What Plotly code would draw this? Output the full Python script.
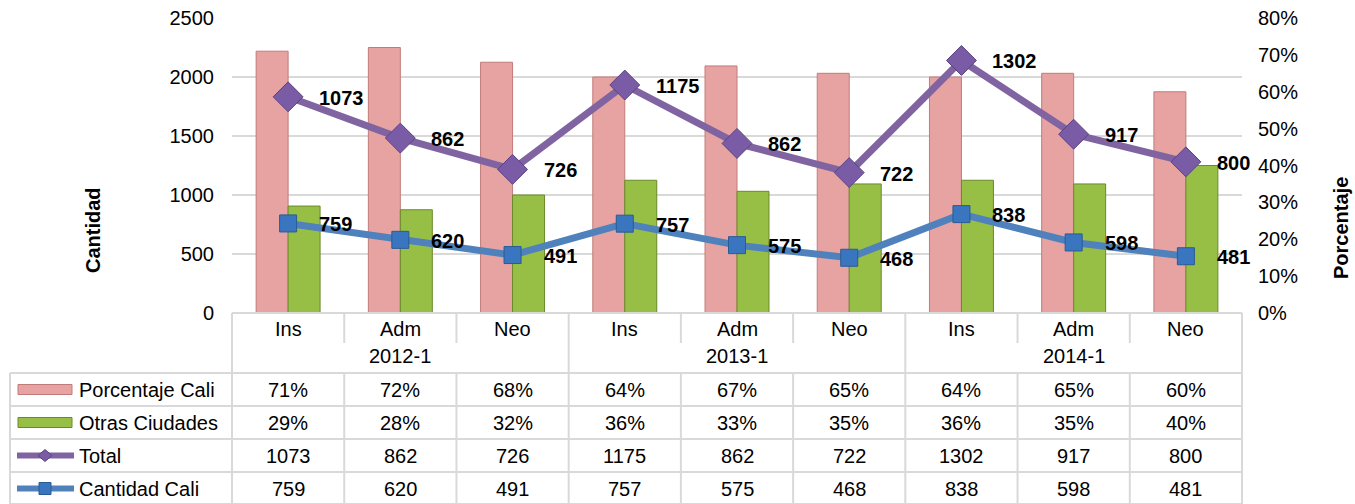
import plotly.graph_objects as go

# ---------------- data ----------------
categories = ["Ins", "Adm", "Neo", "Ins", "Adm", "Neo", "Ins", "Adm", "Neo"]
periods = ["2012-1", "2013-1", "2014-1"]
porcentaje_cali = [0.71, 0.72, 0.68, 0.64, 0.67, 0.65, 0.64, 0.65, 0.60]
otras_ciudades = [0.29, 0.28, 0.32, 0.36, 0.33, 0.35, 0.36, 0.35, 0.40]
total = [1073, 862, 726, 1175, 862, 722, 1302, 917, 800]
cantidad_cali = [759, 620, 491, 757, 575, 468, 838, 598, 481]
series_names = ["Porcentaje Cali", "Otras Ciudades", "Total", "Cantidad Cali"]

# ---------------- styling ----------------
W, H = 1355, 504
FONT = "Arial, Liberation Sans, sans-serif"
FS = 20
PINK, PINK_EDGE = "#E6A3A1", "#C07C7A"
GREEN, GREEN_EDGE = "#98BF45", "#6A8A2A"
PURPLE, PURPLE_MK = "#8064A2", "#7A5CA6"
BLUE, BLUE_MK = "#4F81BD", "#3A76C0"
GRID = "#D9D9D9"

plot_left, plot_right, plot_top, plot_bottom = 232, 1242, 18, 313
dom_x = [plot_left / W, plot_right / W]
dom_y = [1 - plot_bottom / H, 1 - plot_top / H]


def px(x):
    return x / W


def py(y):
    return 1 - y / H


n = len(categories)
xs = list(range(n))


def cx(i):
    return dom_x[0] + (i + 0.5) / n * (dom_x[1] - dom_x[0])


def bx(k):
    return dom_x[0] + k / n * (dom_x[1] - dom_x[0])


# stacked line (Total stacked on top of Cantidad Cali, as in the original)
total_stacked = [c + t for c, t in zip(cantidad_cali, total)]

fig = go.Figure()
fig.add_trace(go.Bar(x=xs, y=porcentaje_cali, name=series_names[0], yaxis="y",
                     marker=dict(color=PINK, line=dict(color=PINK_EDGE, width=1))))
fig.add_trace(go.Bar(x=xs, y=otras_ciudades, name=series_names[1], yaxis="y",
                     marker=dict(color=GREEN, line=dict(color=GREEN_EDGE, width=1))))
fig.add_trace(go.Scatter(x=xs, y=cantidad_cali, name=series_names[3], yaxis="y2",
                         mode="lines+markers",
                         line=dict(color=BLUE, width=7),
                         marker=dict(symbol="square", size=17, color=BLUE_MK,
                                     line=dict(color="#2A5A94", width=1)),
                         cliponaxis=False))
fig.add_trace(go.Scatter(x=xs, y=total_stacked, name=series_names[2], yaxis="y2",
                         mode="lines+markers",
                         line=dict(color=PURPLE, width=7),
                         marker=dict(symbol="diamond", size=23, color=PURPLE_MK,
                                     line=dict(color="#5B4182", width=1)),
                         cliponaxis=False))

shapes = []
annotations = []

# data labels (bold, to the right of each marker)
for vals, ys in [(cantidad_cali, cantidad_cali), (total, total_stacked)]:
    for i, (v, yv) in enumerate(zip(vals, ys)):
        annotations.append(dict(xref="x", yref="y2", x=xs[i], y=yv, text=str(v), showarrow=False,
                                xanchor="left", yanchor="middle", xshift=29, yshift=-1,
                                font=dict(family=FONT, size=FS, color="black", weight="bold")))


def hline(y, x0, x1):
    shapes.append(dict(type="line", xref="paper", yref="paper", x0=x0, x1=x1, y0=py(y), y1=py(y),
                       line=dict(color=GRID, width=2)))


def vline(x, y0, y1):
    shapes.append(dict(type="line", xref="paper", yref="paper", x0=x, x1=x, y0=py(y0), y1=py(y1),
                       line=dict(color=GRID, width=2)))


def text(x, y, s, size=FS, bold=False, xanchor="center"):
    annotations.append(dict(xref="paper", yref="paper", x=x, y=py(y), text=s, showarrow=False,
                            xanchor=xanchor, yanchor="middle",
                            font=dict(family=FONT, size=size, color="black",
                                      weight="bold" if bold else "normal")))


# table grid
row_lines = [373, 406, 439, 472, 504]
table_left = 10
hline(plot_bottom, dom_x[0], dom_x[1])
for y in row_lines:
    hline(y, px(table_left), dom_x[1])
for k in range(n + 1):
    if k % 3 == 0:
        vline(bx(k), plot_bottom, 504)
    else:
        vline(bx(k), plot_bottom, 343)
        vline(bx(k), 373, 504)
vline(px(table_left), 373, 504)

# category and period labels
for i, c in enumerate(categories):
    text(cx(i), 329, c)
for g, p in enumerate(periods):
    text((bx(3 * g) + bx(3 * g + 3)) / 2, 356, p)

# data rows
row_centers = [389.5, 422.5, 455.5, 488.5]
rows = [
    [f"{round(v * 100)}%" for v in porcentaje_cali],
    [f"{round(v * 100)}%" for v in otras_ciudades],
    [str(v) for v in total],
    [str(v) for v in cantidad_cali],
]
for r, (yc, vals) in enumerate(zip(row_centers, rows)):
    text(px(77), yc, series_names[r], xanchor="left")
    for i, v in enumerate(vals):
        text(cx(i), yc, v)

# legend keys inside the table
for yc, fill, edge in [(row_centers[0], PINK, PINK_EDGE), (row_centers[1], GREEN, GREEN_EDGE)]:
    shapes.append(dict(type="rect", xref="paper", yref="paper", x0=px(18), x1=px(72),
                       y0=py(yc + 5), y1=py(yc - 5), fillcolor=fill, line=dict(color=edge, width=1)))
for yc, col, mk, kind in [(row_centers[2], PURPLE, PURPLE_MK, "diamond"),
                          (row_centers[3], BLUE, BLUE_MK, "square")]:
    shapes.append(dict(type="line", xref="paper", yref="paper", x0=px(17), x1=px(74),
                       y0=py(yc), y1=py(yc), line=dict(color=col, width=6)))
    mx = 45
    if kind == "diamond":
        path = (f"M {px(mx - 7)} {py(yc)} L {px(mx)} {py(yc - 6)} L {px(mx + 7)} {py(yc)} "
                f"L {px(mx)} {py(yc + 6)} Z")
        shapes.append(dict(type="path", xref="paper", yref="paper", path=path,
                           fillcolor=mk, line=dict(color="#5B4182", width=1)))
    else:
        shapes.append(dict(type="rect", xref="paper", yref="paper", x0=px(mx - 6), x1=px(mx + 6),
                           y0=py(yc + 6), y1=py(yc - 6), fillcolor=mk,
                           line=dict(color="#2A5A94", width=1)))

# axis titles
annotations.append(dict(xref="paper", yref="paper", x=px(93), y=py(230), text="Cantidad",
                        showarrow=False, textangle=-90, xanchor="center", yanchor="middle",
                        font=dict(family=FONT, size=FS, color="black", weight="bold")))
annotations.append(dict(xref="paper", yref="paper", x=px(1341), y=py(228), text="Porcentaje",
                        showarrow=False, textangle=-90, xanchor="center", yanchor="middle",
                        font=dict(family=FONT, size=FS, color="black", weight="bold")))

fig.update_layout(
    width=W, height=H, autosize=False,
    margin=dict(l=0, r=0, t=0, b=0, pad=0),
    paper_bgcolor="white", plot_bgcolor="white",
    showlegend=False,
    barmode="group", bargap=0.43, bargroupgap=0,
    font=dict(family=FONT, size=FS, color="black"),
    xaxis=dict(domain=dom_x, range=[-0.5, n - 0.5], showticklabels=False, showgrid=False,
               zeroline=False, showline=False, ticks="", automargin=False),
    yaxis=dict(domain=dom_y, side="right", range=[0, 0.8], dtick=0.1, tickformat=".0%",
               showgrid=False, zeroline=False, showline=False, ticklabelstandoff=15,
               automargin=False, tickfont=dict(family=FONT, size=FS, color="black")),
    yaxis2=dict(overlaying="y", side="left", range=[0, 2500], dtick=500,
                showgrid=True, gridcolor=GRID, gridwidth=2, zeroline=False, showline=False,
                ticklabelstandoff=17, automargin=False,
                tickfont=dict(family=FONT, size=FS, color="black")),
    shapes=shapes,
    annotations=annotations,
)

fig.write_html("out.html", config={"displayModeBar": False},
               post_script="document.body.style.margin='0';document.body.style.overflow='hidden';")
